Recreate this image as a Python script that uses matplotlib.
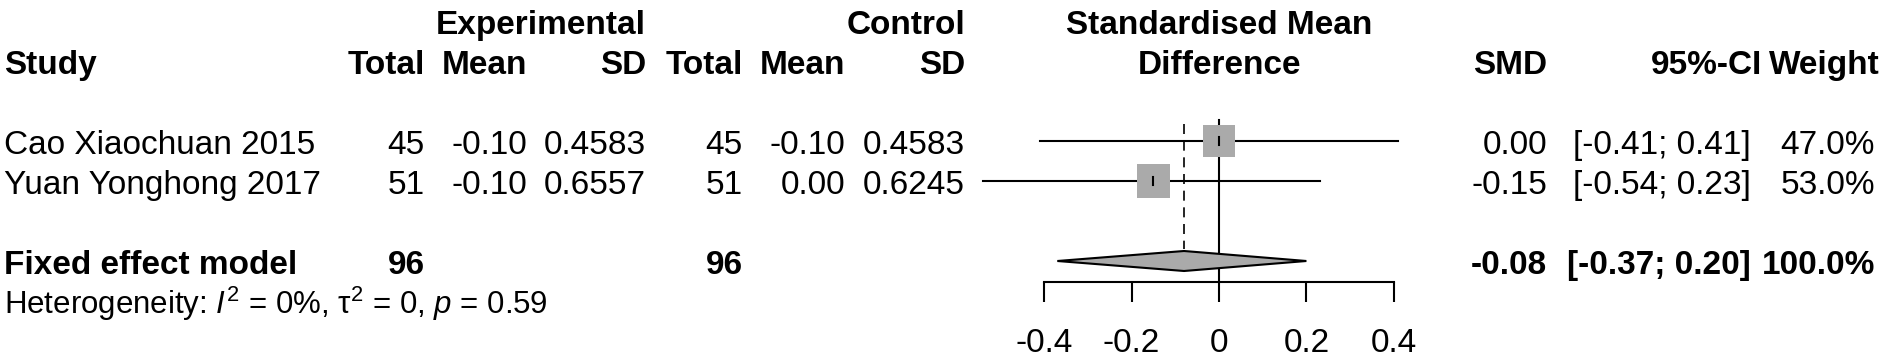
import matplotlib
matplotlib.use("Agg")
import matplotlib.pyplot as plt
from matplotlib.patches import Rectangle, Polygon

plt.rcParams['font.family'] = ['Liberation Sans', 'DejaVu Sans']
plt.rcParams['mathtext.fontset'] = 'custom'
plt.rcParams['mathtext.rm'] = 'Liberation Sans'
plt.rcParams['mathtext.it'] = 'Liberation Sans:italic'

# data
studies = ['Cao Xiaochuan 2015', 'Yuan Yonghong 2017']
exp_total = [45, 51]
exp_mean = [-0.10, -0.10]
exp_sd = [0.4583, 0.6557]
ctl_total = [45, 51]
ctl_mean = [-0.10, 0.00]
ctl_sd = [0.4583, 0.6245]
smd = [0.00, -0.15]
ci_low = [-0.41, -0.54]
ci_high = [0.41, 0.23]
weights = [47.0, 53.0]

fixed_label = 'Fixed effect model'
fixed_exp_total = 96
fixed_ctl_total = 96
fixed_smd = -0.08
fixed_low = -0.37
fixed_high = 0.20
fixed_weight = 100.0
het_text = r'Heterogeneity: $I^2$ = 0%, $\mathrm{\tau}^2$ = 0, $p$ = 0.59'

xticks = [-0.4, -0.2, 0, 0.2, 0.4]
xtick_labels = ['-0.4', '-0.2', '0', '0.2', '0.4']

# layout (pixels, figure is 1890 x 360 at dpi 100)
W, H = 1890, 360
row_top = -2.525          # row coordinate at top edge
row_bot = 6.475           # row coordinate at bottom edge
zero_px = 1219
px_per_unit = 437.0
px_per_row = 40.0
fs = 24
base = 0.33               # baseline offset below row centre

fig = plt.figure(figsize=(W / 100, H / 100), dpi=100)
tab = fig.add_axes([0, 0, 1, 1])
tab.set_xlim(0, W)
tab.set_ylim(row_bot, row_top)
tab.axis('off')

def txt(x, r, s, ha='right', bold=False, size=fs):
    tab.text(x, r + base, s, ha=ha, va='baseline', fontsize=size,
             fontweight='bold' if bold else 'normal')

# headers
txt(646, -2, 'Experimental', bold=True)
txt(965, -2, 'Control', bold=True)
txt(zero_px, -2, 'Standardised Mean', ha='center', bold=True)
txt(4, -1, 'Study', ha='left', bold=True)
txt(425, -1, 'Total', bold=True)
txt(527, -1, 'Mean', bold=True)
txt(646, -1, 'SD', bold=True)
txt(743, -1, 'Total', bold=True)
txt(845, -1, 'Mean', bold=True)
txt(965, -1, 'SD', bold=True)
txt(zero_px, -1, 'Difference', ha='center', bold=True)
txt(1547, -1, 'SMD', bold=True)
txt(1762, -1, '95%-CI', bold=True)
txt(1880, -1, 'Weight', bold=True)

# study rows
for i, name in enumerate(studies):
    r = i + 1
    txt(4, r, name, ha='left')
    txt(425, r, '%d' % exp_total[i])
    txt(527, r, '%.2f' % exp_mean[i])
    txt(646, r, '%.4f' % exp_sd[i])
    txt(743, r, '%d' % ctl_total[i])
    txt(845, r, '%.2f' % ctl_mean[i])
    txt(965, r, '%.4f' % ctl_sd[i])
    txt(1547, r, '%.2f' % smd[i])
    txt(1751, r, '[%.2f; %.2f]' % (ci_low[i], ci_high[i]))
    txt(1875, r, '%.1f%%' % weights[i])

# fixed effect row
fr = len(studies) + 2
txt(4, fr, fixed_label, ha='left', bold=True)
txt(425, fr, '%d' % fixed_exp_total, bold=True)
txt(743, fr, '%d' % fixed_ctl_total, bold=True)
txt(1547, fr, '%.2f' % fixed_smd, bold=True)
txt(1751, fr, '[%.2f; %.2f]' % (fixed_low, fixed_high), bold=True)
txt(1875, fr, '%.1f%%' % fixed_weight, bold=True)
txt(4, fr + 1, het_text, ha='left', size=22.5)

# forest panel
x_lo, x_hi = -0.6, 0.5
left_px = zero_px + x_lo * px_per_unit
ax = fig.add_axes([left_px / W, 0, (x_hi - x_lo) * px_per_unit / W, 1])
ax.set_xlim(x_lo, x_hi)
ax.set_ylim(row_bot, row_top)
ax.patch.set_alpha(0)
for side in ['left', 'right', 'top']:
    ax.spines[side].set_visible(False)
axis_row = fr + 0.525
ax.spines['bottom'].set_position(('data', axis_row))
ax.spines['bottom'].set_bounds(xticks[0], xticks[-1])
ax.spines['bottom'].set_linewidth(1.5)
ax.set_yticks([])
ax.set_xticks(xticks)
ax.set_xticklabels(xtick_labels)
ax.tick_params(axis='x', direction='out', length=14.4, width=1.5, pad=19,
               labelsize=fs)

gray = '#aaaaaa'
lw = 1.5

# reference lines
ax.plot([0, 0], [0.475, axis_row], color='black', lw=lw, zorder=1)
ax.plot([fixed_smd, fixed_smd], [0.575, fr - 0.3], color='black', lw=1.2,
        linestyle=(0, (6, 4)), zorder=1)

for i in range(len(studies)):
    r = i + 1
    ax.plot([ci_low[i], ci_high[i]], [r, r], color='black', lw=lw, zorder=2)
    side_px = 4.6 * weights[i] ** 0.5
    bw = side_px / px_per_unit
    bh = side_px / px_per_row
    ax.add_patch(Rectangle((smd[i] - bw / 2, r - bh / 2), bw, bh,
                           facecolor=gray, edgecolor='none', zorder=3))
    ax.plot([smd[i], smd[i]], [r - 0.11, r + 0.11], color='black', lw=lw, zorder=4)

diamond = Polygon([(fixed_low, fr), (fixed_smd, fr - 0.25),
                   (fixed_high, fr), (fixed_smd, fr + 0.25)],
                  closed=True, facecolor=gray, edgecolor='black', lw=lw, zorder=3)
ax.add_patch(diamond)

fig.savefig('out.png', dpi=100)
